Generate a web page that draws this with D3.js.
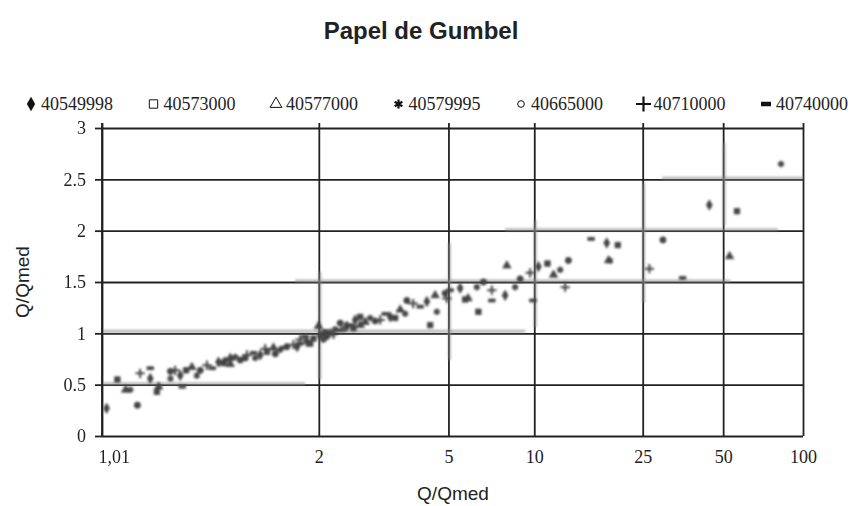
<!DOCTYPE html>
<html>
<head>
<meta charset="utf-8">
<script src="https://cdn.jsdelivr.net/npm/d3@7"></script>
<style>
  body { margin: 0; background: #fff; }
  svg { display: block; }
</style>
</head>
<body>
<div id="chart"></div>
<script>
// gumbel axis: return periods and their labels
const periodTicks = [1.01, 2, 5, 10, 25, 50, 100];
const periodLabels = ['1,01', '2', '5', '10', '25', '50', '100'];
const ratioTicks = [0, 0.5, 1, 1.5, 2, 2.5, 3];
const ratioLabels = ['0', '0.5', '1', '1.5', '2', '2.5', '3'];

const stations = ['40549998', '40573000', '40577000', '40579995', '40665000', '40710000', '40740000'];

// [return period T, Q/Qmed]
const st40549998 = [[1.012, 0.27], [1.051, 0.56], [1.108, 0.59], [1.233, 0.72], [1.459, 0.79], [1.863, 0.92], [2.389, 1.07], [1.763, 0.87], [2.017, 0.98], [2.525, 1.13], [3.224, 1.16], [4.234, 1.31], [5.48, 1.44], [7.868, 1.37], [10.35, 1.65], [18.39, 1.88], [44.37, 2.25]];
const st40573000 = [[1.018, 0.55], [1.061, 0.43], [1.123, 0.64], [1.255, 0.71], [1.506, 0.82], [1.937, 0.95], [2.496, 1.05], [1.9, 0.9], [2.08, 1.01], [2.612, 1.16], [3.342, 1.15], [4.342, 1.08], [5.701, 1.33], [6.337, 1.21], [11.16, 1.68], [20.2, 1.86], [56.37, 2.19]];
const st40577000 = [[1.024, 0.45], [1.064, 0.48], [1.139, 0.67], [1.286, 0.76], [1.555, 0.86], [1.996, 1.07], [2.612, 1.08], [1.286, 0.7], [2.146, 1.0], [2.703, 1.11], [3.467, 1.23], [4.511, 1.37], [5.838, 1.34], [7.981, 1.66], [11.74, 1.57], [18.68, 1.71], [52.85, 1.75]];
const st40579995 = [[1.028, 0.45], [1.086, 0.56], [1.154, 0.59], [1.311, 0.77], [1.609, 0.84], [2.058, 0.94], [1.263, 0.74], [1.426, 0.76], [2.214, 1.04], [2.797, 1.15], [3.596, 1.19], [4.57, 1.21], [6.258, 1.45], [8.54, 1.45], [12.41, 1.62], [18.9, 1.71], [82.6, 2.65]];
const st40665000 = [[1.035, 0.3], [1.086, 0.63], [1.165, 0.64], [1.337, 0.74], [1.667, 0.87], [2.102, 0.97], [1.365, 0.76], [1.569, 0.8], [2.287, 1.1], [2.897, 1.12], [3.642, 1.32], [4.873, 1.39], [6.601, 1.5], [8.897, 1.53], [13.3, 1.71], [29.74, 1.91]];
const st40710000 = [[1.038, 0.61], [1.096, 0.64], [1.188, 0.69], [1.375, 0.79], [1.727, 0.89], [2.191, 0.99], [1.493, 0.85], [1.793, 0.94], [2.362, 1.06], [3.001, 1.13], [3.817, 1.29], [4.938, 1.34], [7.062, 1.42], [9.662, 1.59], [12.94, 1.45], [26.47, 1.63]];
const st40740000 = [[1.051, 0.66], [1.113, 0.48], [1.208, 0.66], [1.415, 0.81], [1.793, 0.9], [2.287, 1.03], [1.634, 0.86], [1.845, 0.97], [2.441, 1.08], [3.11, 1.19], [4.024, 1.26], [5.066, 1.42], [7.062, 1.32], [9.882, 1.32], [16.11, 1.92], [35.23, 1.54]];

// grey smudges from the scanned paper: rows [T from, T to, Q], cols [T, Q from, Q to]
const ghostRows = [[1.01, 9.28, 1.02], [1.01, 1.845, 0.51], [1.744, 53.1, 1.51], [7.87, 80.5, 2.01], [29.5, 100, 2.51]];
const ghostCols = [[2, 0.55, 1.6], [5, 0.74, 1.88], [10, 1.06, 2.1], [25, 1.3, 2.46], [50, 2.05, 2.85]];

const W = 857, H = 506;
const margin = {top: 128, right: 54, bottom: 70, left: 102};
const width = W - margin.left - margin.right;
const height = H - margin.top - margin.bottom;

const gumbel = t => -Math.log(-Math.log(1 - 1 / t));

const x = d3.scaleLinear().domain([gumbel(1.01), gumbel(100)]).range([0, width]);
const y = d3.scaleLinear().domain([0, 3]).range([height, 0]);

const dash = {
    draw(ctx, size) {
        const w = Math.sqrt(size) * 0.6, h = w * 0.45;
        ctx.rect(-w, -h, 2 * w, 2 * h);
    }
};
const symbolTypes = [d3.symbolDiamond, d3.symbolSquare, d3.symbolTriangle, d3.symbolAsterisk, d3.symbolCircle, d3.symbolPlus, dash];
const series = [st40549998, st40573000, st40577000, st40579995, st40665000, st40710000, st40740000];

const svg = d3.select('#chart')
              .append('svg')
              .attr('width', W)
              .attr('height', H);

const defs = svg.append('defs');
defs.append('filter')
    .attr('id', 'scan')
    .attr('x', '-20%').attr('y', '-20%').attr('width', '140%').attr('height', '140%')
    .append('feGaussianBlur')
    .attr('stdDeviation', 1.1);
defs.append('filter')
    .attr('id', 'ghost')
    .attr('x', '-20%').attr('y', '-20%').attr('width', '140%').attr('height', '140%')
    .append('feGaussianBlur')
    .attr('stdDeviation', 1.2);

// title
svg.append('text')
   .text('Papel de Gumbel')
   .attr('x', 421)
   .attr('y', 39)
   .attr('text-anchor', 'middle')
   .style('font-family', '"Liberation Sans", Arial, sans-serif')
   .style('font-weight', 'bold')
   .style('font-size', '24px')
   .style('fill', '#222');

// legend
const legend = svg.append('g').attr('transform', 'translate(31, 104)');
const legendItem = legend.selectAll('g')
    .data(stations)
    .enter()
    .append('g')
    .attr('transform', (d, i) => 'translate(' + (i * 122.5) + ', 0)');

legendItem.append('path')
    .attr('d', (d, i) => d3.symbol(symbolTypes[i], [60, 70, 60, 55, 35, 75, 70][i])())
    .style('fill', (d, i) => (i === 0 || i === 6) ? '#111' : 'none')
    .style('stroke', (d, i) => (i === 0 || i === 6) ? 'none' : '#111')
    .style('stroke-width', (d, i) => (i === 3 || i === 5) ? 2.2 : 1);

legendItem.append('text')
    .text(d => d)
    .attr('x', 10)
    .attr('dy', '0.35em')
    .style('font-family', '"Liberation Serif", "Times New Roman", serif')
    .style('font-size', '18px')
    .style('fill', '#222');

const plot = svg.append('g')
    .attr('transform', 'translate(' + margin.left + ', ' + margin.top + ')');

// horizontal grid
plot.append('g')
    .attr('class', 'grid')
    .call(d3.axisLeft(y).tickValues(ratioTicks).tickSize(-width).tickFormat(''));

// vertical grid, poking a little above the top line like the original
plot.append('g')
    .attr('class', 'grid')
    .attr('transform', 'translate(0, ' + height + ')')
    .call(d3.axisBottom(x).tickValues(periodTicks.map(gumbel)).tickSize(-(height + 5)).tickFormat(''));

plot.selectAll('.grid .domain').remove();
plot.selectAll('.grid line')
    .style('stroke', '#222')
    .style('stroke-width', 1.8);

// ghost strokes
const ghosts = plot.append('g').attr('filter', 'url(#ghost)');
ghosts.selectAll('line.row')
    .data(ghostRows)
    .enter()
    .append('line')
    .attr('class', 'row')
    .attr('x1', d => x(gumbel(d[0])))
    .attr('x2', d => x(gumbel(d[1])))
    .attr('y1', d => y(d[2]))
    .attr('y2', d => y(d[2]));
ghosts.selectAll('line.col')
    .data(ghostCols)
    .enter()
    .append('line')
    .attr('class', 'col')
    .attr('x1', d => x(gumbel(d[0])) + 1)
    .attr('x2', d => x(gumbel(d[0])) + 1)
    .attr('y1', d => y(d[1]))
    .attr('y2', d => y(d[2]));
ghosts.selectAll('line')
    .style('stroke', '#8a8a8a')
    .style('stroke-width', 3)
    .style('opacity', 0.6);

// y axis
const yAxis = plot.append('g')
    .call(d3.axisLeft(y).tickValues(ratioTicks).tickSize(7).tickPadding(9).tickFormat((d, i) => ratioLabels[i]));
yAxis.select('.domain')
    .attr('d', 'M0,-5V' + height);

// x axis labels
const xAxis = plot.append('g')
    .attr('transform', 'translate(0, ' + height + ')')
    .call(d3.axisBottom(x).tickValues(periodTicks.map(gumbel)).tickSize(0).tickPadding(14).tickFormat((d, i) => periodLabels[i]));
xAxis.select('.domain').remove();
xAxis.selectAll('.tick text')
    .filter((d, i) => i === 0)
    .attr('text-anchor', 'start')
    .attr('dx', -4);

plot.selectAll('.domain, .tick line')
    .style('stroke', '#222')
    .style('stroke-width', 1.8);
plot.selectAll('.tick text')
    .style('font-family', '"Liberation Serif", "Times New Roman", serif')
    .style('font-size', '18px')
    .style('fill', '#222');

// points
const marks = plot.append('g').attr('filter', 'url(#scan)');
series.forEach((pts, s) => {
    const open = s === 3 || s === 5;
    marks.selectAll('path.s' + s)
        .data(pts)
        .enter()
        .append('path')
        .attr('class', 's' + s)
        .attr('transform', d => 'translate(' + x(gumbel(d[0])) + ', ' + y(d[1]) + ')')
        .attr('d', d3.symbol(symbolTypes[s], 30)())
        .style('fill', open ? 'none' : '#444')
        .style('stroke', '#444')
        .style('stroke-width', open ? 2 : 0.8);
});

// axis titles
svg.append('text')
   .text('Q/Qmed')
   .attr('transform', 'translate(29, 282) rotate(-90)')
   .attr('text-anchor', 'middle')
   .style('font-family', '"Liberation Sans", Arial, sans-serif')
   .style('font-size', '19px')
   .style('fill', '#222');

svg.append('text')
   .text('Q/Qmed')
   .attr('x', 453)
   .attr('y', 500)
   .attr('text-anchor', 'middle')
   .style('font-family', '"Liberation Sans", Arial, sans-serif')
   .style('font-size', '19px')
   .style('fill', '#222');
</script>
</body>
</html>
